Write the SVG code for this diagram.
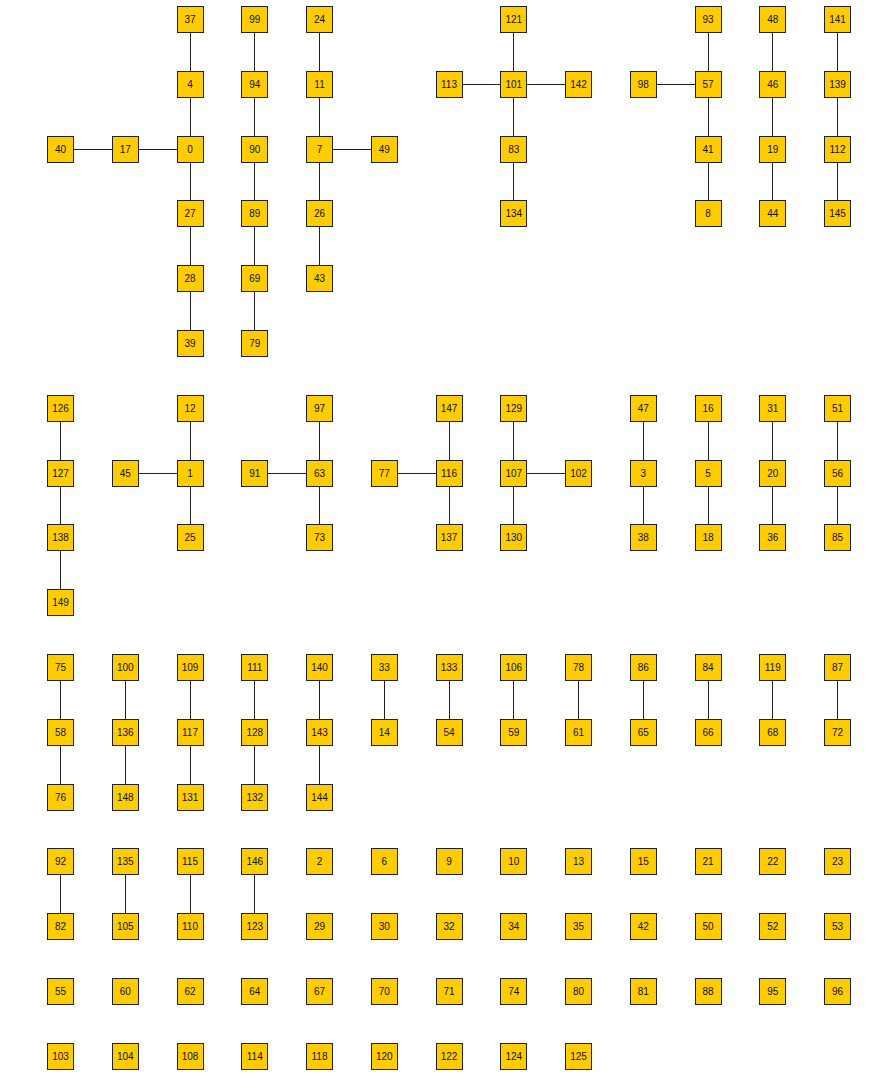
<svg xmlns="http://www.w3.org/2000/svg" width="896" height="1078" viewBox="0 0 896 1078">
<style>
.n rect{fill:#FFCC00;stroke:#222;stroke-width:1;shape-rendering:crispEdges}
.n text{font-family:"Liberation Sans",Arial,sans-serif;font-size:10px;fill:#111;text-anchor:middle}
#edges line{stroke:#222;stroke-width:1;shape-rendering:crispEdges}
</style>
<rect width="896" height="1078" fill="#fff"/>
<g id="edges">
<line x1="190" y1="19.5" x2="190" y2="84.3"/><line x1="190" y1="84.3" x2="190" y2="149.1"/><line x1="60.5" y1="149.1" x2="190" y2="149.1"/><line x1="190" y1="149.1" x2="190" y2="343.5"/>
<line x1="254.75" y1="19.5" x2="254.75" y2="343.5"/>
<line x1="319.5" y1="19.5" x2="319.5" y2="278.7"/><line x1="319.5" y1="149.1" x2="384.25" y2="149.1"/>
<line x1="513.75" y1="19.5" x2="513.75" y2="213.9"/><line x1="449" y1="84.3" x2="578.5" y2="84.3"/>
<line x1="708" y1="19.5" x2="708" y2="213.9"/><line x1="643.25" y1="84.3" x2="708" y2="84.3"/>
<line x1="772.75" y1="19.5" x2="772.75" y2="213.9"/>
<line x1="837.5" y1="19.5" x2="837.5" y2="213.9"/>
<line x1="60.5" y1="408.3" x2="60.5" y2="602.7"/>
<line x1="190" y1="408.3" x2="190" y2="537.9"/><line x1="125.25" y1="473.1" x2="190" y2="473.1"/>
<line x1="319.5" y1="408.3" x2="319.5" y2="537.9"/><line x1="254.75" y1="473.1" x2="319.5" y2="473.1"/>
<line x1="449" y1="408.3" x2="449" y2="537.9"/><line x1="384.25" y1="473.1" x2="449" y2="473.1"/>
<line x1="513.75" y1="408.3" x2="513.75" y2="537.9"/><line x1="513.75" y1="473.1" x2="578.5" y2="473.1"/>
<line x1="643.25" y1="408.3" x2="643.25" y2="537.9"/>
<line x1="708" y1="408.3" x2="708" y2="537.9"/>
<line x1="772.75" y1="408.3" x2="772.75" y2="537.9"/>
<line x1="837.5" y1="408.3" x2="837.5" y2="537.9"/>
<line x1="60.5" y1="667.5" x2="60.5" y2="797.1"/>
<line x1="125.25" y1="667.5" x2="125.25" y2="797.1"/>
<line x1="190" y1="667.5" x2="190" y2="797.1"/>
<line x1="254.75" y1="667.5" x2="254.75" y2="797.1"/>
<line x1="319.5" y1="667.5" x2="319.5" y2="797.1"/>
<line x1="384.25" y1="667.5" x2="384.25" y2="732.3"/>
<line x1="449" y1="667.5" x2="449" y2="732.3"/>
<line x1="513.75" y1="667.5" x2="513.75" y2="732.3"/>
<line x1="578.5" y1="667.5" x2="578.5" y2="732.3"/>
<line x1="643.25" y1="667.5" x2="643.25" y2="732.3"/>
<line x1="708" y1="667.5" x2="708" y2="732.3"/>
<line x1="772.75" y1="667.5" x2="772.75" y2="732.3"/>
<line x1="837.5" y1="667.5" x2="837.5" y2="732.3"/>
<line x1="60.5" y1="861.9" x2="60.5" y2="926.7"/>
<line x1="125.25" y1="861.9" x2="125.25" y2="926.7"/>
<line x1="190" y1="861.9" x2="190" y2="926.7"/>
<line x1="254.75" y1="861.9" x2="254.75" y2="926.7"/>
</g>
<g id="n37" class="n" transform="translate(190,19.5)"><rect x="-13" y="-13" width="26" height="26"/><text y="3.5">37</text></g>
<g id="n99" class="n" transform="translate(254.75,19.5)"><rect x="-13" y="-13" width="26" height="26"/><text y="3.5">99</text></g>
<g id="n24" class="n" transform="translate(319.5,19.5)"><rect x="-13" y="-13" width="26" height="26"/><text y="3.5">24</text></g>
<g id="n121" class="n" transform="translate(513.75,19.5)"><rect x="-13" y="-13" width="26" height="26"/><text y="3.5">121</text></g>
<g id="n93" class="n" transform="translate(708,19.5)"><rect x="-13" y="-13" width="26" height="26"/><text y="3.5">93</text></g>
<g id="n48" class="n" transform="translate(772.75,19.5)"><rect x="-13" y="-13" width="26" height="26"/><text y="3.5">48</text></g>
<g id="n141" class="n" transform="translate(837.5,19.5)"><rect x="-13" y="-13" width="26" height="26"/><text y="3.5">141</text></g>
<g id="n4" class="n" transform="translate(190,84.3)"><rect x="-13" y="-13" width="26" height="26"/><text y="3.5">4</text></g>
<g id="n94" class="n" transform="translate(254.75,84.3)"><rect x="-13" y="-13" width="26" height="26"/><text y="3.5">94</text></g>
<g id="n11" class="n" transform="translate(319.5,84.3)"><rect x="-13" y="-13" width="26" height="26"/><text y="3.5">11</text></g>
<g id="n113" class="n" transform="translate(449,84.3)"><rect x="-13" y="-13" width="26" height="26"/><text y="3.5">113</text></g>
<g id="n101" class="n" transform="translate(513.75,84.3)"><rect x="-13" y="-13" width="26" height="26"/><text y="3.5">101</text></g>
<g id="n142" class="n" transform="translate(578.5,84.3)"><rect x="-13" y="-13" width="26" height="26"/><text y="3.5">142</text></g>
<g id="n98" class="n" transform="translate(643.25,84.3)"><rect x="-13" y="-13" width="26" height="26"/><text y="3.5">98</text></g>
<g id="n57" class="n" transform="translate(708,84.3)"><rect x="-13" y="-13" width="26" height="26"/><text y="3.5">57</text></g>
<g id="n46" class="n" transform="translate(772.75,84.3)"><rect x="-13" y="-13" width="26" height="26"/><text y="3.5">46</text></g>
<g id="n139" class="n" transform="translate(837.5,84.3)"><rect x="-13" y="-13" width="26" height="26"/><text y="3.5">139</text></g>
<g id="n40" class="n" transform="translate(60.5,149.1)"><rect x="-13" y="-13" width="26" height="26"/><text y="3.5">40</text></g>
<g id="n17" class="n" transform="translate(125.25,149.1)"><rect x="-13" y="-13" width="26" height="26"/><text y="3.5">17</text></g>
<g id="n0" class="n" transform="translate(190,149.1)"><rect x="-13" y="-13" width="26" height="26"/><text y="3.5">0</text></g>
<g id="n90" class="n" transform="translate(254.75,149.1)"><rect x="-13" y="-13" width="26" height="26"/><text y="3.5">90</text></g>
<g id="n7" class="n" transform="translate(319.5,149.1)"><rect x="-13" y="-13" width="26" height="26"/><text y="3.5">7</text></g>
<g id="n49" class="n" transform="translate(384.25,149.1)"><rect x="-13" y="-13" width="26" height="26"/><text y="3.5">49</text></g>
<g id="n83" class="n" transform="translate(513.75,149.1)"><rect x="-13" y="-13" width="26" height="26"/><text y="3.5">83</text></g>
<g id="n41" class="n" transform="translate(708,149.1)"><rect x="-13" y="-13" width="26" height="26"/><text y="3.5">41</text></g>
<g id="n19" class="n" transform="translate(772.75,149.1)"><rect x="-13" y="-13" width="26" height="26"/><text y="3.5">19</text></g>
<g id="n112" class="n" transform="translate(837.5,149.1)"><rect x="-13" y="-13" width="26" height="26"/><text y="3.5">112</text></g>
<g id="n27" class="n" transform="translate(190,213.9)"><rect x="-13" y="-13" width="26" height="26"/><text y="3.5">27</text></g>
<g id="n89" class="n" transform="translate(254.75,213.9)"><rect x="-13" y="-13" width="26" height="26"/><text y="3.5">89</text></g>
<g id="n26" class="n" transform="translate(319.5,213.9)"><rect x="-13" y="-13" width="26" height="26"/><text y="3.5">26</text></g>
<g id="n134" class="n" transform="translate(513.75,213.9)"><rect x="-13" y="-13" width="26" height="26"/><text y="3.5">134</text></g>
<g id="n8" class="n" transform="translate(708,213.9)"><rect x="-13" y="-13" width="26" height="26"/><text y="3.5">8</text></g>
<g id="n44" class="n" transform="translate(772.75,213.9)"><rect x="-13" y="-13" width="26" height="26"/><text y="3.5">44</text></g>
<g id="n145" class="n" transform="translate(837.5,213.9)"><rect x="-13" y="-13" width="26" height="26"/><text y="3.5">145</text></g>
<g id="n28" class="n" transform="translate(190,278.7)"><rect x="-13" y="-13" width="26" height="26"/><text y="3.5">28</text></g>
<g id="n69" class="n" transform="translate(254.75,278.7)"><rect x="-13" y="-13" width="26" height="26"/><text y="3.5">69</text></g>
<g id="n43" class="n" transform="translate(319.5,278.7)"><rect x="-13" y="-13" width="26" height="26"/><text y="3.5">43</text></g>
<g id="n39" class="n" transform="translate(190,343.5)"><rect x="-13" y="-13" width="26" height="26"/><text y="3.5">39</text></g>
<g id="n79" class="n" transform="translate(254.75,343.5)"><rect x="-13" y="-13" width="26" height="26"/><text y="3.5">79</text></g>
<g id="n126" class="n" transform="translate(60.5,408.3)"><rect x="-13" y="-13" width="26" height="26"/><text y="3.5">126</text></g>
<g id="n12" class="n" transform="translate(190,408.3)"><rect x="-13" y="-13" width="26" height="26"/><text y="3.5">12</text></g>
<g id="n97" class="n" transform="translate(319.5,408.3)"><rect x="-13" y="-13" width="26" height="26"/><text y="3.5">97</text></g>
<g id="n147" class="n" transform="translate(449,408.3)"><rect x="-13" y="-13" width="26" height="26"/><text y="3.5">147</text></g>
<g id="n129" class="n" transform="translate(513.75,408.3)"><rect x="-13" y="-13" width="26" height="26"/><text y="3.5">129</text></g>
<g id="n47" class="n" transform="translate(643.25,408.3)"><rect x="-13" y="-13" width="26" height="26"/><text y="3.5">47</text></g>
<g id="n16" class="n" transform="translate(708,408.3)"><rect x="-13" y="-13" width="26" height="26"/><text y="3.5">16</text></g>
<g id="n31" class="n" transform="translate(772.75,408.3)"><rect x="-13" y="-13" width="26" height="26"/><text y="3.5">31</text></g>
<g id="n51" class="n" transform="translate(837.5,408.3)"><rect x="-13" y="-13" width="26" height="26"/><text y="3.5">51</text></g>
<g id="n127" class="n" transform="translate(60.5,473.1)"><rect x="-13" y="-13" width="26" height="26"/><text y="3.5">127</text></g>
<g id="n45" class="n" transform="translate(125.25,473.1)"><rect x="-13" y="-13" width="26" height="26"/><text y="3.5">45</text></g>
<g id="n1" class="n" transform="translate(190,473.1)"><rect x="-13" y="-13" width="26" height="26"/><text y="3.5">1</text></g>
<g id="n91" class="n" transform="translate(254.75,473.1)"><rect x="-13" y="-13" width="26" height="26"/><text y="3.5">91</text></g>
<g id="n63" class="n" transform="translate(319.5,473.1)"><rect x="-13" y="-13" width="26" height="26"/><text y="3.5">63</text></g>
<g id="n77" class="n" transform="translate(384.25,473.1)"><rect x="-13" y="-13" width="26" height="26"/><text y="3.5">77</text></g>
<g id="n116" class="n" transform="translate(449,473.1)"><rect x="-13" y="-13" width="26" height="26"/><text y="3.5">116</text></g>
<g id="n107" class="n" transform="translate(513.75,473.1)"><rect x="-13" y="-13" width="26" height="26"/><text y="3.5">107</text></g>
<g id="n102" class="n" transform="translate(578.5,473.1)"><rect x="-13" y="-13" width="26" height="26"/><text y="3.5">102</text></g>
<g id="n3" class="n" transform="translate(643.25,473.1)"><rect x="-13" y="-13" width="26" height="26"/><text y="3.5">3</text></g>
<g id="n5" class="n" transform="translate(708,473.1)"><rect x="-13" y="-13" width="26" height="26"/><text y="3.5">5</text></g>
<g id="n20" class="n" transform="translate(772.75,473.1)"><rect x="-13" y="-13" width="26" height="26"/><text y="3.5">20</text></g>
<g id="n56" class="n" transform="translate(837.5,473.1)"><rect x="-13" y="-13" width="26" height="26"/><text y="3.5">56</text></g>
<g id="n138" class="n" transform="translate(60.5,537.9)"><rect x="-13" y="-13" width="26" height="26"/><text y="3.5">138</text></g>
<g id="n25" class="n" transform="translate(190,537.9)"><rect x="-13" y="-13" width="26" height="26"/><text y="3.5">25</text></g>
<g id="n73" class="n" transform="translate(319.5,537.9)"><rect x="-13" y="-13" width="26" height="26"/><text y="3.5">73</text></g>
<g id="n137" class="n" transform="translate(449,537.9)"><rect x="-13" y="-13" width="26" height="26"/><text y="3.5">137</text></g>
<g id="n130" class="n" transform="translate(513.75,537.9)"><rect x="-13" y="-13" width="26" height="26"/><text y="3.5">130</text></g>
<g id="n38" class="n" transform="translate(643.25,537.9)"><rect x="-13" y="-13" width="26" height="26"/><text y="3.5">38</text></g>
<g id="n18" class="n" transform="translate(708,537.9)"><rect x="-13" y="-13" width="26" height="26"/><text y="3.5">18</text></g>
<g id="n36" class="n" transform="translate(772.75,537.9)"><rect x="-13" y="-13" width="26" height="26"/><text y="3.5">36</text></g>
<g id="n85" class="n" transform="translate(837.5,537.9)"><rect x="-13" y="-13" width="26" height="26"/><text y="3.5">85</text></g>
<g id="n149" class="n" transform="translate(60.5,602.7)"><rect x="-13" y="-13" width="26" height="26"/><text y="3.5">149</text></g>
<g id="n75" class="n" transform="translate(60.5,667.5)"><rect x="-13" y="-13" width="26" height="26"/><text y="3.5">75</text></g>
<g id="n100" class="n" transform="translate(125.25,667.5)"><rect x="-13" y="-13" width="26" height="26"/><text y="3.5">100</text></g>
<g id="n109" class="n" transform="translate(190,667.5)"><rect x="-13" y="-13" width="26" height="26"/><text y="3.5">109</text></g>
<g id="n111" class="n" transform="translate(254.75,667.5)"><rect x="-13" y="-13" width="26" height="26"/><text y="3.5">111</text></g>
<g id="n140" class="n" transform="translate(319.5,667.5)"><rect x="-13" y="-13" width="26" height="26"/><text y="3.5">140</text></g>
<g id="n33" class="n" transform="translate(384.25,667.5)"><rect x="-13" y="-13" width="26" height="26"/><text y="3.5">33</text></g>
<g id="n133" class="n" transform="translate(449,667.5)"><rect x="-13" y="-13" width="26" height="26"/><text y="3.5">133</text></g>
<g id="n106" class="n" transform="translate(513.75,667.5)"><rect x="-13" y="-13" width="26" height="26"/><text y="3.5">106</text></g>
<g id="n78" class="n" transform="translate(578.5,667.5)"><rect x="-13" y="-13" width="26" height="26"/><text y="3.5">78</text></g>
<g id="n86" class="n" transform="translate(643.25,667.5)"><rect x="-13" y="-13" width="26" height="26"/><text y="3.5">86</text></g>
<g id="n84" class="n" transform="translate(708,667.5)"><rect x="-13" y="-13" width="26" height="26"/><text y="3.5">84</text></g>
<g id="n119" class="n" transform="translate(772.75,667.5)"><rect x="-13" y="-13" width="26" height="26"/><text y="3.5">119</text></g>
<g id="n87" class="n" transform="translate(837.5,667.5)"><rect x="-13" y="-13" width="26" height="26"/><text y="3.5">87</text></g>
<g id="n58" class="n" transform="translate(60.5,732.3)"><rect x="-13" y="-13" width="26" height="26"/><text y="3.5">58</text></g>
<g id="n136" class="n" transform="translate(125.25,732.3)"><rect x="-13" y="-13" width="26" height="26"/><text y="3.5">136</text></g>
<g id="n117" class="n" transform="translate(190,732.3)"><rect x="-13" y="-13" width="26" height="26"/><text y="3.5">117</text></g>
<g id="n128" class="n" transform="translate(254.75,732.3)"><rect x="-13" y="-13" width="26" height="26"/><text y="3.5">128</text></g>
<g id="n143" class="n" transform="translate(319.5,732.3)"><rect x="-13" y="-13" width="26" height="26"/><text y="3.5">143</text></g>
<g id="n14" class="n" transform="translate(384.25,732.3)"><rect x="-13" y="-13" width="26" height="26"/><text y="3.5">14</text></g>
<g id="n54" class="n" transform="translate(449,732.3)"><rect x="-13" y="-13" width="26" height="26"/><text y="3.5">54</text></g>
<g id="n59" class="n" transform="translate(513.75,732.3)"><rect x="-13" y="-13" width="26" height="26"/><text y="3.5">59</text></g>
<g id="n61" class="n" transform="translate(578.5,732.3)"><rect x="-13" y="-13" width="26" height="26"/><text y="3.5">61</text></g>
<g id="n65" class="n" transform="translate(643.25,732.3)"><rect x="-13" y="-13" width="26" height="26"/><text y="3.5">65</text></g>
<g id="n66" class="n" transform="translate(708,732.3)"><rect x="-13" y="-13" width="26" height="26"/><text y="3.5">66</text></g>
<g id="n68" class="n" transform="translate(772.75,732.3)"><rect x="-13" y="-13" width="26" height="26"/><text y="3.5">68</text></g>
<g id="n72" class="n" transform="translate(837.5,732.3)"><rect x="-13" y="-13" width="26" height="26"/><text y="3.5">72</text></g>
<g id="n76" class="n" transform="translate(60.5,797.1)"><rect x="-13" y="-13" width="26" height="26"/><text y="3.5">76</text></g>
<g id="n148" class="n" transform="translate(125.25,797.1)"><rect x="-13" y="-13" width="26" height="26"/><text y="3.5">148</text></g>
<g id="n131" class="n" transform="translate(190,797.1)"><rect x="-13" y="-13" width="26" height="26"/><text y="3.5">131</text></g>
<g id="n132" class="n" transform="translate(254.75,797.1)"><rect x="-13" y="-13" width="26" height="26"/><text y="3.5">132</text></g>
<g id="n144" class="n" transform="translate(319.5,797.1)"><rect x="-13" y="-13" width="26" height="26"/><text y="3.5">144</text></g>
<g id="n92" class="n" transform="translate(60.5,861.9)"><rect x="-13" y="-13" width="26" height="26"/><text y="3.5">92</text></g>
<g id="n135" class="n" transform="translate(125.25,861.9)"><rect x="-13" y="-13" width="26" height="26"/><text y="3.5">135</text></g>
<g id="n115" class="n" transform="translate(190,861.9)"><rect x="-13" y="-13" width="26" height="26"/><text y="3.5">115</text></g>
<g id="n146" class="n" transform="translate(254.75,861.9)"><rect x="-13" y="-13" width="26" height="26"/><text y="3.5">146</text></g>
<g id="n2" class="n" transform="translate(319.5,861.9)"><rect x="-13" y="-13" width="26" height="26"/><text y="3.5">2</text></g>
<g id="n6" class="n" transform="translate(384.25,861.9)"><rect x="-13" y="-13" width="26" height="26"/><text y="3.5">6</text></g>
<g id="n9" class="n" transform="translate(449,861.9)"><rect x="-13" y="-13" width="26" height="26"/><text y="3.5">9</text></g>
<g id="n10" class="n" transform="translate(513.75,861.9)"><rect x="-13" y="-13" width="26" height="26"/><text y="3.5">10</text></g>
<g id="n13" class="n" transform="translate(578.5,861.9)"><rect x="-13" y="-13" width="26" height="26"/><text y="3.5">13</text></g>
<g id="n15" class="n" transform="translate(643.25,861.9)"><rect x="-13" y="-13" width="26" height="26"/><text y="3.5">15</text></g>
<g id="n21" class="n" transform="translate(708,861.9)"><rect x="-13" y="-13" width="26" height="26"/><text y="3.5">21</text></g>
<g id="n22" class="n" transform="translate(772.75,861.9)"><rect x="-13" y="-13" width="26" height="26"/><text y="3.5">22</text></g>
<g id="n23" class="n" transform="translate(837.5,861.9)"><rect x="-13" y="-13" width="26" height="26"/><text y="3.5">23</text></g>
<g id="n82" class="n" transform="translate(60.5,926.7)"><rect x="-13" y="-13" width="26" height="26"/><text y="3.5">82</text></g>
<g id="n105" class="n" transform="translate(125.25,926.7)"><rect x="-13" y="-13" width="26" height="26"/><text y="3.5">105</text></g>
<g id="n110" class="n" transform="translate(190,926.7)"><rect x="-13" y="-13" width="26" height="26"/><text y="3.5">110</text></g>
<g id="n123" class="n" transform="translate(254.75,926.7)"><rect x="-13" y="-13" width="26" height="26"/><text y="3.5">123</text></g>
<g id="n29" class="n" transform="translate(319.5,926.7)"><rect x="-13" y="-13" width="26" height="26"/><text y="3.5">29</text></g>
<g id="n30" class="n" transform="translate(384.25,926.7)"><rect x="-13" y="-13" width="26" height="26"/><text y="3.5">30</text></g>
<g id="n32" class="n" transform="translate(449,926.7)"><rect x="-13" y="-13" width="26" height="26"/><text y="3.5">32</text></g>
<g id="n34" class="n" transform="translate(513.75,926.7)"><rect x="-13" y="-13" width="26" height="26"/><text y="3.5">34</text></g>
<g id="n35" class="n" transform="translate(578.5,926.7)"><rect x="-13" y="-13" width="26" height="26"/><text y="3.5">35</text></g>
<g id="n42" class="n" transform="translate(643.25,926.7)"><rect x="-13" y="-13" width="26" height="26"/><text y="3.5">42</text></g>
<g id="n50" class="n" transform="translate(708,926.7)"><rect x="-13" y="-13" width="26" height="26"/><text y="3.5">50</text></g>
<g id="n52" class="n" transform="translate(772.75,926.7)"><rect x="-13" y="-13" width="26" height="26"/><text y="3.5">52</text></g>
<g id="n53" class="n" transform="translate(837.5,926.7)"><rect x="-13" y="-13" width="26" height="26"/><text y="3.5">53</text></g>
<g id="n55" class="n" transform="translate(60.5,991.5)"><rect x="-13" y="-13" width="26" height="26"/><text y="3.5">55</text></g>
<g id="n60" class="n" transform="translate(125.25,991.5)"><rect x="-13" y="-13" width="26" height="26"/><text y="3.5">60</text></g>
<g id="n62" class="n" transform="translate(190,991.5)"><rect x="-13" y="-13" width="26" height="26"/><text y="3.5">62</text></g>
<g id="n64" class="n" transform="translate(254.75,991.5)"><rect x="-13" y="-13" width="26" height="26"/><text y="3.5">64</text></g>
<g id="n67" class="n" transform="translate(319.5,991.5)"><rect x="-13" y="-13" width="26" height="26"/><text y="3.5">67</text></g>
<g id="n70" class="n" transform="translate(384.25,991.5)"><rect x="-13" y="-13" width="26" height="26"/><text y="3.5">70</text></g>
<g id="n71" class="n" transform="translate(449,991.5)"><rect x="-13" y="-13" width="26" height="26"/><text y="3.5">71</text></g>
<g id="n74" class="n" transform="translate(513.75,991.5)"><rect x="-13" y="-13" width="26" height="26"/><text y="3.5">74</text></g>
<g id="n80" class="n" transform="translate(578.5,991.5)"><rect x="-13" y="-13" width="26" height="26"/><text y="3.5">80</text></g>
<g id="n81" class="n" transform="translate(643.25,991.5)"><rect x="-13" y="-13" width="26" height="26"/><text y="3.5">81</text></g>
<g id="n88" class="n" transform="translate(708,991.5)"><rect x="-13" y="-13" width="26" height="26"/><text y="3.5">88</text></g>
<g id="n95" class="n" transform="translate(772.75,991.5)"><rect x="-13" y="-13" width="26" height="26"/><text y="3.5">95</text></g>
<g id="n96" class="n" transform="translate(837.5,991.5)"><rect x="-13" y="-13" width="26" height="26"/><text y="3.5">96</text></g>
<g id="n103" class="n" transform="translate(60.5,1056.3)"><rect x="-13" y="-13" width="26" height="26"/><text y="3.5">103</text></g>
<g id="n104" class="n" transform="translate(125.25,1056.3)"><rect x="-13" y="-13" width="26" height="26"/><text y="3.5">104</text></g>
<g id="n108" class="n" transform="translate(190,1056.3)"><rect x="-13" y="-13" width="26" height="26"/><text y="3.5">108</text></g>
<g id="n114" class="n" transform="translate(254.75,1056.3)"><rect x="-13" y="-13" width="26" height="26"/><text y="3.5">114</text></g>
<g id="n118" class="n" transform="translate(319.5,1056.3)"><rect x="-13" y="-13" width="26" height="26"/><text y="3.5">118</text></g>
<g id="n120" class="n" transform="translate(384.25,1056.3)"><rect x="-13" y="-13" width="26" height="26"/><text y="3.5">120</text></g>
<g id="n122" class="n" transform="translate(449,1056.3)"><rect x="-13" y="-13" width="26" height="26"/><text y="3.5">122</text></g>
<g id="n124" class="n" transform="translate(513.75,1056.3)"><rect x="-13" y="-13" width="26" height="26"/><text y="3.5">124</text></g>
<g id="n125" class="n" transform="translate(578.5,1056.3)"><rect x="-13" y="-13" width="26" height="26"/><text y="3.5">125</text></g>
</svg>
